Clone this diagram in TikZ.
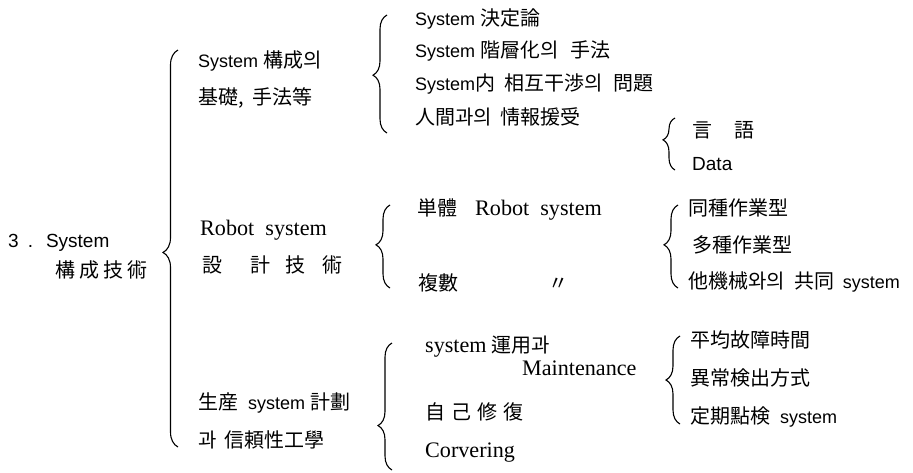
\documentclass[tikz,border=0pt]{standalone}
\usepackage{fontspec}
\setmainfont{Liberation Sans}
\newfontfamily\cjk{Noto Sans CJK KR}[Scale=1.11]
\newfontfamily\serifo{Liberation Serif}[Scale=1.23]
\usetikzlibrary{decorations.pathreplacing}
\begin{document}
\begin{tikzpicture}[x=1pt,y=1pt,
  txt/.style={anchor=base west, inner sep=0pt, font=\fontsize{18}{21}\selectfont},
  br/.style={decorate, decoration={brace, amplitude=#1}, line width=1.1pt},
  brasp/.style={decoration={aspect=#1}}
]
\useasboundingbox (0,0) rectangle (913,-472);
% level 1
\node[txt, font=\fontsize{19}{22}\selectfont] (n3) at (8,-247) {3\hspace{9pt}.\hspace{13pt}System};
\node[txt] (n4) at (55,-277) {\cjk 構\hspace{4pt}成\hspace{4pt}技\hspace{4pt}術};
% level 2
\node[txt] (a1) at (198,-67) {System {\cjk 構成의}};
\node[txt] (a2) at (198,-104) {\cjk 基礎,\hspace{9pt}手法等};
\node[txt] (b1) at (200,-235) {\serifo Robot\ \ system};
\node[txt] (b2) at (202,-272) {\cjk 設\hspace{28pt}計\hspace{15pt}技\hspace{17pt}術};
\node[txt] (c1) at (198,-409) {{\cjk 生産}\ \ system {\cjk 計劃}};
\node[txt] (c2) at (198,-447) {\cjk 과\hspace{8pt}信頼性工學};
% level 3 upper
\node[txt] (d1) at (415,-25) {System {\cjk 決定論}};
\node[txt] (d2) at (415,-57) {System {\cjk 階層化의\hspace{12pt}手法}};
\node[txt] (d3) at (415,-90) {System{\cjk 内\hspace{9pt}相互干渉의\hspace{11pt}問題}};
\node[txt] (d4) at (415,-124) {\cjk 人間과의\hspace{9pt}情報援受};
\node[txt] (e1) at (692,-137) {\cjk 言\hspace{22pt}語};
\node[txt, font=\fontsize{19}{22}\selectfont] (e2) at (692,-170) {Data};
% middle
\node[txt] (f1) at (417,-215) {{\cjk 単體}\hspace{18pt}{\serifo Robot\ \ system}};
\node[txt] (f2) at (418,-290) {\cjk 複數};
\node[txt] (f3) at (548,-290) {\cjk 〃};
\node[txt] (g1) at (688,-215) {\cjk 同種作業型};
\node[txt] (g2) at (692,-252) {\cjk 多種作業型};
\node[txt] (g3) at (688,-288) {{\cjk 他機械와의\hspace{10pt}共同}\hspace{8pt}system};
% lower
\node[txt] (h1) at (425,-352) {{\serifo system} {\cjk 運用과}};
\node[txt] (h2) at (522,-375) {\serifo Maintenance};
\node[txt] (h3) at (425,-419) {\cjk 自\hspace{6pt}己\hspace{6pt}修\hspace{6pt}復};
\node[txt] (h4) at (425,-457) {\serifo Corvering};
\node[txt] (i1) at (690,-347) {\cjk 平均故障時間};
\node[txt] (i2) at (690,-385) {\cjk 異常検出方式};
\node[txt] (i3) at (690,-423) {{\cjk 定期點検}\hspace{10pt}system};
% brace end points
\coordinate (m0) at (178,-447); \coordinate (m1) at (178,-50);
\coordinate (u0) at (387,-133); \coordinate (u1) at (387,-15);
\coordinate (l0) at (675,-170); \coordinate (l1) at (675,-118);
\coordinate (p0) at (390,-288); \coordinate (p1) at (390,-205);
\coordinate (q0) at (678,-288); \coordinate (q1) at (678,-205);
\coordinate (r0) at (392,-470); \coordinate (r1) at (392,-343);
\coordinate (s0) at (680,-424); \coordinate (s1) at (680,-336);
\draw[br=15pt, brasp=0.49] (m0) -- (m1);
\draw[br=14pt, brasp=0.49] (u0) -- (u1);
\draw[br=12pt, brasp=0.58] (l0) -- (l1);
\draw[br=14pt, brasp=0.52] (p0) -- (p1);
\draw[br=14pt, brasp=0.52] (q0) -- (q1);
\draw[br=14pt, brasp=0.35] (r0) -- (r1);
\draw[br=14pt, brasp=0.5] (s0) -- (s1);
\end{tikzpicture}
\end{document}
